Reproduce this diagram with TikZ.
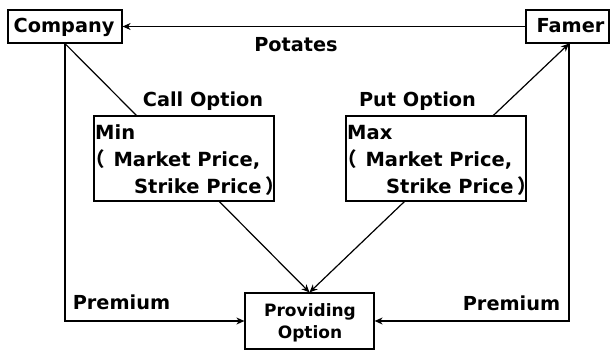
\documentclass[tikz,border=0pt]{standalone}
\usepackage{fontspec}
\setmainfont{DejaVu Sans}
\newfontfamily\cjk{Noto Sans CJK JP}
\usetikzlibrary{arrows.meta}
\begin{document}
\begin{tikzpicture}[x=1pt,y=-1pt,
  box/.style={draw, line width=1.2pt, inner sep=0pt, rectangle},
  lbl/.style={inner sep=0pt, anchor=base, font=\fontsize{19.3}{23}\selectfont\bfseries},
  btxt/.style={inner sep=0pt, anchor=base west, font=\fontsize{19.5}{23}\selectfont\bfseries},
  ptxt/.style={inner sep=0pt, anchor=base, font=\fontsize{17}{20}\selectfont\bfseries},
  conn/.style={line width=1.2pt},
  arr/.style={conn, -{Stealth[length=8pt,width=7pt,inset=2.5pt]}}]
\useasboundingbox (0,0) rectangle (610,352);
% boxes
\node[box, minimum width=114pt, minimum height=33pt] (company) at (65,26.5) {};
\node[box, minimum width=83pt, minimum height=33pt] (famer) at (567.5,26.5) {};
\node[box, minimum width=180pt, minimum height=85pt] (call) at (184,158.5) {};
\node[box, minimum width=180pt, minimum height=85pt] (put) at (436,158.5) {};
\node[box, minimum width=129pt, minimum height=56pt] (prov) at (309.5,321) {};
% box texts
\node[lbl] (companyt) at (64,32.5) {Company};
\node[lbl] (famert) at (570.5,33) {Famer};
\node[btxt] (cmin) at (95,139.5) {Min};
\node[btxt] (cpl) at (84.8,166.5) {\cjk （};
\node[btxt] (cmkt) at (113.3,166.5) {Market Price,};
\node[btxt] (cstr) at (134,193.5) {Strike Price};
\node[btxt] (cpr) at (265.4,193.5) {\cjk ）};
\node[btxt] (pmax) at (347,139.5) {Max};
\node[btxt] (ppl) at (336.8,166.5) {\cjk （};
\node[btxt] (pmkt) at (365.3,166.5) {Market Price,};
\node[btxt] (pstr) at (386,193.5) {Strike Price};
\node[btxt] (ppr) at (517.4,193.5) {\cjk ）};
\node[ptxt] (provt1) at (310,316.3) {Providing};
\node[ptxt] (provt2) at (310,338.3) {Option};
% labels
\node[lbl] (potates) at (296,51.7) {Potates};
\node[lbl] (callopt) at (203,106.7) {Call Option};
\node[lbl] (putopt) at (417.5,106.7) {Put Option};
\node[lbl] (prem1) at (121.5,310) {Premium};
\node[lbl] (prem2) at (511.5,311) {Premium};
% coordinates
\coordinate (callin) at ([xshift=43pt]call.north west);
\coordinate (callout) at ([xshift=126pt]call.south west);
\coordinate (putout) at ([xshift=59pt]put.south west);
\coordinate (putin) at ([xshift=148pt]put.north west);
\coordinate (fb) at ([xshift=1.5pt]famer.south);
% connectors
\draw[arr] (famer.west) -- (company.east);
\draw[conn] (company.south) -- (callin);
\draw[arr] (company.south) |- (prov.west);
\draw[arr] (callout) -- (prov.north);
\draw[arr] (putout) -- (prov.north);
\draw[arr] (putin) -- (fb);
\draw[arr] (fb) |- (prov.east);
\end{tikzpicture}
\end{document}
